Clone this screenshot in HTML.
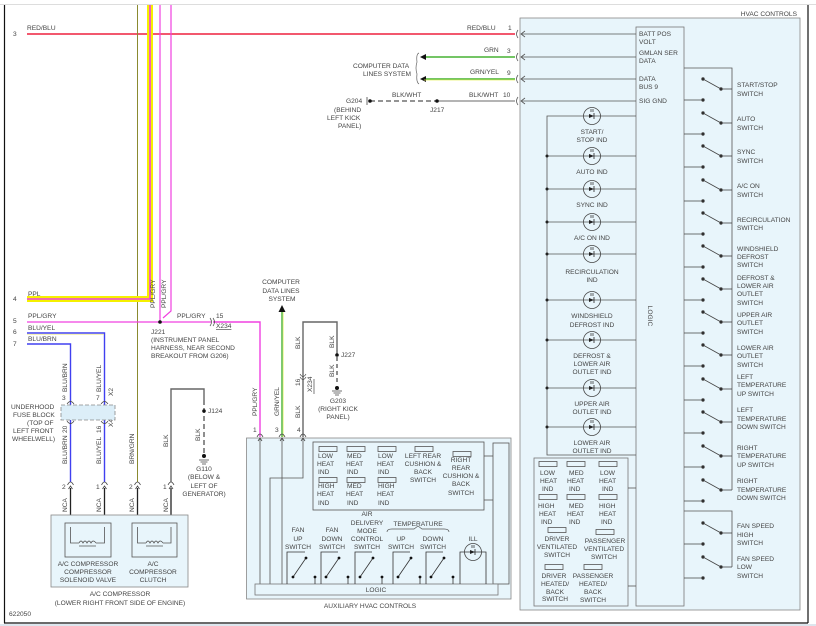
<!DOCTYPE html>
<html><head><meta charset="utf-8"><style>
html,body{margin:0;padding:0;background:#fff}
svg{display:block}
text{font-family:"Liberation Sans",sans-serif;font-size:6.6px;fill:#444}
</style></head><body>
<svg width="816" height="626" viewBox="0 0 816 626" xmlns="http://www.w3.org/2000/svg">
<defs>
<g id="led"><circle r="8.5" fill="none" stroke="#444" stroke-width="0.8"/><path d="M-3,-2 L2,0 L-3,2 Z" fill="#222"/><line x1="2" y1="-3" x2="2" y2="3" stroke="#222" stroke-width="0.8"/><line x1="-1" y1="-7" x2="-1" y2="-4" stroke="#222" stroke-width="0.7"/><line x1="1" y1="-7" x2="1" y2="-4" stroke="#222" stroke-width="0.7"/></g>
<g id="conUp"><path d="M-3,3 Q0,-3 3,3" fill="none" stroke="#444" stroke-width="0.8"/><path d="M-2,7 L0,4 L2,7" fill="none" stroke="#444" stroke-width="0.8"/></g>
<g id="ind"><rect x="-9" y="-2.5" width="18" height="5" fill="none" stroke="#555" stroke-width="0.8"/></g>
<g id="sw" stroke="#444" stroke-width="0.8" fill="#222">
<line x1="703" y1="0" x2="721" y2="10"/><line x1="721" y1="10" x2="732" y2="10"/><line x1="684" y1="21" x2="703" y2="21"/>
<circle cx="703" cy="0" r="1.3"/><circle cx="721" cy="10" r="1.3"/><circle cx="703" cy="21" r="1.3"/></g>
</defs>
<!-- frame -->
<line x1="0" y1="4.5" x2="816" y2="4.5" stroke="#ddd"/>
<line x1="4.5" y1="5" x2="4.5" y2="623" stroke="#111" stroke-width="1.2"/>
<line x1="4" y1="623" x2="808" y2="623" stroke="#111" stroke-width="1.2"/>
<line x1="808" y1="5" x2="808" y2="623" stroke="#111" stroke-width="1.2"/>
<rect x="0" y="624" width="816" height="2" fill="#dde6ee"/>

<!-- HVAC controls box -->
<rect x="520" y="18" width="280" height="592" fill="#e8f5fb" stroke="#888" stroke-width="0.8"/>
<text x="797" y="16" text-anchor="end">HVAC CONTROLS</text>
<rect x="636" y="27" width="48" height="579" fill="#e8f5fb" stroke="#777" stroke-width="0.8"/>
<text x="0" y="0" transform="translate(648,316) rotate(90)" text-anchor="middle">LOGIC</text>
<g stroke="#555" stroke-width="0.8">
<line x1="521" y1="34" x2="636" y2="34"/><line x1="521" y1="57" x2="636" y2="57"/><line x1="521" y1="79" x2="636" y2="79"/><line x1="521" y1="101" x2="636" y2="101"/>
</g>
<g fill="none" stroke="#555" stroke-width="0.8">
<path d="M525,31 L521,34 L525,37"/><path d="M525,54 L521,57 L525,60"/><path d="M525,76 L521,79 L525,82"/><path d="M525,98 L521,101 L525,104"/>
<path d="M518,30 Q515,34 518,38"/><path d="M518,53 Q515,57 518,61"/><path d="M518,75 Q515,79 518,83"/><path d="M518,97 Q515,101 518,105"/>
</g>
<text x="639" y="36">BATT POS</text><text x="639" y="44">VOLT</text>
<text x="639" y="55">GMLAN SER</text><text x="639" y="63">DATA</text>
<text x="639" y="81">DATA</text><text x="639" y="89">BUS 9</text>
<text x="639" y="103">SIG GND</text>

<!-- LED column -->
<g stroke="#555" stroke-width="0.8" fill="none">
<path d="M636,116 L547,116 L547,455 L636,455"/>
<line x1="547" y1="156" x2="636" y2="156"/><line x1="547" y1="189" x2="636" y2="189"/><line x1="547" y1="222" x2="636" y2="222"/><line x1="547" y1="254" x2="636" y2="254"/><line x1="547" y1="300" x2="636" y2="300"/><line x1="547" y1="340" x2="636" y2="340"/><line x1="547" y1="388" x2="636" y2="388"/><line x1="547" y1="427" x2="636" y2="427"/>
</g>
<g fill="#222"><circle cx="547" cy="156" r="1.5"/><circle cx="547" cy="189" r="1.5"/><circle cx="547" cy="222" r="1.5"/><circle cx="547" cy="254" r="1.5"/><circle cx="547" cy="300" r="1.5"/><circle cx="547" cy="340" r="1.5"/><circle cx="547" cy="388" r="1.5"/><circle cx="547" cy="427" r="1.5"/></g>
<g fill="#e8f5fb">
<use href="#led" x="592" y="116"/><use href="#led" x="592" y="156"/><use href="#led" x="592" y="189"/><use href="#led" x="592" y="222"/><use href="#led" x="592" y="254"/><use href="#led" x="592" y="300"/><use href="#led" x="592" y="340"/><use href="#led" x="592" y="388"/><use href="#led" x="592" y="427"/>
</g>
<g text-anchor="middle">
<text x="592" y="134">START/</text><text x="592" y="142">STOP IND</text>
<text x="592" y="174">AUTO IND</text>
<text x="592" y="207">SYNC IND</text>
<text x="592" y="240">A/C ON IND</text>
<text x="592" y="274">RECIRCULATION</text><text x="592" y="282">IND</text>
<text x="592" y="318">WINDSHIELD</text><text x="592" y="327">DEFROST IND</text>
<text x="592" y="358">DEFROST &amp;</text><text x="592" y="366">LOWER AIR</text><text x="592" y="374">OUTLET IND</text>
<text x="592" y="406">UPPER AIR</text><text x="592" y="414">OUTLET IND</text>
<text x="592" y="445">LOWER AIR</text><text x="592" y="453">OUTLET IND</text>
</g>

<!-- bottom-left indicator box in HVAC -->
<rect x="534" y="458" width="94" height="148" fill="#e8f5fb" stroke="#777" stroke-width="0.8"/>
<line x1="628" y1="488" x2="636" y2="488" stroke="#555" stroke-width="0.8"/>
<line x1="628" y1="586" x2="636" y2="586" stroke="#555" stroke-width="0.8"/>
<g fill="#e8f5fb"><use href="#ind" x="548" y="464"/><use href="#ind" x="576" y="464"/><use href="#ind" x="608" y="464"/>
<use href="#ind" x="548" y="497"/><use href="#ind" x="576" y="497"/><use href="#ind" x="608" y="497"/>
<use href="#ind" x="557" y="530"/><use href="#ind" x="605" y="532"/><use href="#ind" x="554" y="567"/><use href="#ind" x="593" y="567"/></g>
<text x="540" y="475">LOW</text><text x="540" y="483">HEAT</text><text x="542" y="491">IND</text>
<text x="569" y="475">MED</text><text x="567" y="483">HEAT</text><text x="569" y="491">IND</text>
<text x="600" y="475">LOW</text><text x="599" y="483">HEAT</text><text x="602" y="491">IND</text>
<text x="538" y="508">HIGH</text><text x="539" y="516">HEAT</text><text x="541" y="524">IND</text>
<text x="569" y="508">MED</text><text x="567" y="516">HEAT</text><text x="569" y="524">IND</text>
<text x="599" y="508">HIGH</text><text x="599" y="516">HEAT</text><text x="601" y="524">IND</text>
<g text-anchor="middle"><text x="557" y="541">DRIVER</text><text x="557" y="549">VENTILATED</text><text x="557" y="557">SWITCH</text>
<text x="605" y="543">PASSENGER</text><text x="604" y="551">VENTILATED</text><text x="604" y="559">SWITCH</text>
<text x="554" y="578">DRIVER</text><text x="555" y="586">HEATED/</text><text x="555" y="594">BACK</text><text x="555" y="601">SWITCH</text>
<text x="593" y="578">PASSENGER</text><text x="593" y="586">HEATED/</text><text x="593" y="594">BACK</text><text x="593" y="602">SWITCH</text></g>

<!-- right switches -->
<g stroke="#555" stroke-width="0.8" fill="none">
<path d="M684,68 L732,68 L732,490"/>
<path d="M684,511 L732,511 L732,567"/>
</g>
<use href="#sw" y="79"/><use href="#sw" y="113"/><use href="#sw" y="146"/><use href="#sw" y="180"/><use href="#sw" y="213"/><use href="#sw" y="246"/><use href="#sw" y="279"/><use href="#sw" y="312"/><use href="#sw" y="345"/><use href="#sw" y="379"/><use href="#sw" y="412"/><use href="#sw" y="446"/><use href="#sw" y="480"/>
<use href="#sw" y="523"/><use href="#sw" y="557"/>
<g>
<text x="737" y="87">START/STOP</text><text x="737" y="96">SWITCH</text>
<text x="737" y="121">AUTO</text><text x="737" y="130">SWITCH</text>
<text x="737" y="154">SYNC</text><text x="737" y="163">SWITCH</text>
<text x="737" y="188">A/C ON</text><text x="737" y="197">SWITCH</text>
<text x="737" y="222">RECIRCULATION</text><text x="737" y="230">SWITCH</text>
<text x="737" y="251">WINDSHIELD</text><text x="737" y="259">DEFROST</text><text x="737" y="267">SWITCH</text>
<text x="737" y="280">DEFROST &amp;</text><text x="737" y="288">LOWER AIR</text><text x="737" y="296">OUTLET</text><text x="737" y="305">SWITCH</text>
<text x="737" y="317">UPPER AIR</text><text x="737" y="325">OUTLET</text><text x="737" y="334">SWITCH</text>
<text x="737" y="350">LOWER AIR</text><text x="737" y="358">OUTLET</text><text x="737" y="367">SWITCH</text>
<text x="737" y="379">LEFT</text><text x="737" y="387">TEMPERATURE</text><text x="737" y="396">UP SWITCH</text>
<text x="737" y="412">LEFT</text><text x="737" y="421">TEMPERATURE</text><text x="737" y="429">DOWN SWITCH</text>
<text x="737" y="450">RIGHT</text><text x="737" y="458">TEMPERATURE</text><text x="737" y="467">UP SWITCH</text>
<text x="737" y="483">RIGHT</text><text x="737" y="492">TEMPERATURE</text><text x="737" y="500">DOWN SWITCH</text>
<text x="737" y="528">FAN SPEED</text><text x="737" y="537">HIGH</text><text x="737" y="545">SWITCH</text>
<text x="737" y="561">FAN SPEED</text><text x="737" y="569">LOW</text><text x="737" y="578">SWITCH</text>
</g>

<!-- top wires -->
<line x1="27" y1="34" x2="515" y2="34" stroke="#f0405a" stroke-width="1.8"/>
<text x="27" y="30">RED/BLU</text><text x="13" y="36">3</text>
<text x="467" y="30">RED/BLU</text><text x="508" y="30">1</text>
<line x1="424" y1="57" x2="515" y2="57" stroke="#46b232" stroke-width="1.6"/>
<line x1="424" y1="79" x2="515" y2="79" stroke="#46b232" stroke-width="1.6"/>
<path d="M420,57 L426,54 L426,60 Z M420,79 L426,76 L426,82 Z" fill="#111"/>
<line x1="424" y1="80" x2="515" y2="80" stroke="#e8f060" stroke-width="0.8"/>
<text x="484" y="52">GRN</text><text x="507" y="53">3</text>
<text x="470" y="74">GRN/YEL</text><text x="507" y="75">9</text>
<path d="M419,53 Q416,54 417,62 Q415,68 417,74 Q416,82 419,84" fill="none" stroke="#666" stroke-width="0.7"/>
<text x="353" y="68">COMPUTER DATA</text><text x="363" y="76">LINES SYSTEM</text>
<line x1="370" y1="101" x2="437" y2="101" stroke="#555" stroke-width="1.2" stroke-dasharray="5,3"/>
<line x1="437" y1="101" x2="515" y2="101" stroke="#888" stroke-width="1.2"/>
<circle cx="370" cy="101" r="1.8" fill="#111"/><circle cx="437" cy="101" r="1.8" fill="#111"/>
<line x1="367" y1="97" x2="367" y2="105" stroke="#444" stroke-width="0.8"/>
<text x="392" y="97">BLK/WHT</text><text x="469" y="97">BLK/WHT</text><text x="503" y="97">10</text>
<text x="346" y="103">G204</text><text x="430" y="112">J217</text>
<text x="334" y="112">(BEHIND</text><text x="327" y="120">LEFT KICK</text><text x="338" y="128">PANEL)</text>

<!-- left vertical harness -->
<line x1="137.5" y1="5" x2="137.5" y2="482" stroke="#8a8a30" stroke-width="1"/>
<path d="M27,299 L150,299 L150,5" fill="none" stroke="#f5f000" stroke-width="6"/>
<path d="M27,299 L150,299 L150,5" fill="none" stroke="#f040e0" stroke-width="1.6"/>
<line x1="160" y1="5" x2="160" y2="322" stroke="#f040e0" stroke-width="1.2"/>
<path d="M171,5 L171,311 L163,318" fill="none" stroke="#f040e0" stroke-width="1.2"/>
<text x="0" y="0" transform="translate(155,308) rotate(-90)">PPL/GRY</text>
<text x="0" y="0" transform="translate(166,308) rotate(-90)">PPL/GRY</text>
<text x="28" y="296">PPL</text><text x="13" y="301">4</text>

<line x1="27" y1="322" x2="211" y2="322" stroke="#f040e0" stroke-width="1.2"/>
<path d="M213,322 L260,322 L260,437" fill="none" stroke="#f040e0" stroke-width="1.4"/>
<circle cx="160" cy="322" r="1.8" fill="#111"/>
<path d="M210,318 Q213,322 210,326 M213,318 Q216,322 213,326" fill="none" stroke="#444" stroke-width="0.7"/>
<text x="28" y="318">PPL/GRY</text><text x="13" y="323">5</text>
<text x="177" y="318">PPL/GRY</text><text x="216" y="318">15</text>
<text x="216" y="328" text-decoration="underline">X234</text>
<text x="151" y="334">J221</text>
<text x="151" y="342">(INSTRUMENT PANEL</text><text x="151" y="350">HARNESS, NEAR SECOND</text><text x="151" y="358">BREAKOUT FROM G206)</text>

<path d="M27,333 L104.5,333 L104.5,482" fill="none" stroke="#4040f0" stroke-width="1.4"/>
<path d="M27,344 L70.5,344 L70.5,482" fill="none" stroke="#4040f0" stroke-width="1.4"/>
<line x1="27" y1="334.2" x2="104" y2="334.2" stroke="#e8e060" stroke-width="0.5"/>
<text x="28" y="330">BLU/YEL</text><text x="13" y="334">6</text>
<text x="28" y="341">BLU/BRN</text><text x="13" y="346">7</text>
<text x="0" y="0" transform="translate(67,392) rotate(-90)">BLU/BRN</text>
<text x="0" y="0" transform="translate(101,392) rotate(-90)">BLU/YEL</text>
<text x="0" y="0" transform="translate(67,464) rotate(-90)">BLU/BRN</text>
<text x="0" y="0" transform="translate(101,464) rotate(-90)">BLU/YEL</text>
<text x="0" y="0" transform="translate(134,464) rotate(-90)">BRN/GRN</text>
<text x="0" y="0" transform="translate(168,447) rotate(-90)">BLK</text>
<text x="62" y="400">3</text><text x="96" y="400">7</text>
<text x="0" y="0" transform="translate(113,396) rotate(-90)">X2</text>
<text x="0" y="0" transform="translate(67,433) rotate(-90)">20</text>
<text x="0" y="0" transform="translate(101,433) rotate(-90)">16</text>
<text x="0" y="0" transform="translate(113,427) rotate(-90)">X4</text>
<rect x="61" y="405" width="54" height="15" fill="#dceef8" stroke="#888" stroke-width="0.8" stroke-dasharray="4,2"/>
<text x="11" y="409">UNDERHOOD</text><text x="13" y="417">FUSE BLOCK</text><text x="27" y="425">(TOP OF</text><text x="13" y="433">LEFT FRONT</text><text x="12" y="441">WHEELWELL)</text>

<path d="M171,482 L171,389 L204,389 L204,400" fill="none" stroke="#666" stroke-width="1.4"/>
<line x1="204" y1="400" x2="204" y2="455" stroke="#444" stroke-width="1.2" stroke-dasharray="5,3"/>
<circle cx="204" cy="411" r="1.8" fill="#111"/><circle cx="204" cy="456" r="2" fill="#111"/>
<path d="M199,460 L209,460 M200.5,462 L207.5,462 M202,464 L206,464" stroke="#444" stroke-width="0.7"/>
<text x="208" y="413">J124</text>
<text x="0" y="0" transform="translate(200,441) rotate(-90)">BLK</text>
<text x="204" y="471" text-anchor="middle">G110</text><text x="204" y="479" text-anchor="middle">(BELOW &amp;</text><text x="204" y="488" text-anchor="middle">LEFT OF</text><text x="204" y="496" text-anchor="middle">GENERATOR)</text>

<g fill="none" stroke="#444" stroke-width="0.7">
<path d="M67,404 Q70.5,399 74,404 M67,421 Q70.5,426 74,421 M101,404 Q104.5,399 108,404 M101,421 Q104.5,426 108,421"/>
</g>
<use href="#conUp" x="70.5" y="482"/><use href="#conUp" x="104.5" y="482"/><use href="#conUp" x="137.5" y="482"/><use href="#conUp" x="171" y="482"/>
<text x="62" y="489">2</text><text x="96" y="489">1</text><text x="129" y="489">2</text><text x="163" y="489">1</text>
<g stroke="#222" stroke-width="1.3"><line x1="70.5" y1="488" x2="70.5" y2="527"/><line x1="104.5" y1="488" x2="104.5" y2="527"/><line x1="137.5" y1="488" x2="137.5" y2="527"/><line x1="171" y1="488" x2="171" y2="527"/></g>
<text x="0" y="0" transform="translate(67,512) rotate(-90)">NCA</text>
<text x="0" y="0" transform="translate(101,512) rotate(-90)">NCA</text>
<text x="0" y="0" transform="translate(134,512) rotate(-90)">NCA</text>
<text x="0" y="0" transform="translate(168,512) rotate(-90)">NCA</text>

<!-- A/C compressor -->
<rect x="51" y="515" width="137" height="72" fill="#e8f5fb" stroke="#888" stroke-width="0.8"/>
<rect x="65" y="523" width="46" height="34" fill="none" stroke="#555" stroke-width="0.8"/>
<rect x="132" y="523" width="45" height="34" fill="none" stroke="#555" stroke-width="0.8"/>
<path d="M70.5,527 L70.5,543 L79,543 M96,543 L104.5,543 L104.5,527 M137.5,527 L137.5,543 L146,543 M163,543 L171,543 L171,527" fill="none" stroke="#555" stroke-width="0.8"/>
<path d="M79,543 q2,-4 4,0 q2,-4 4,0 q2,-4 4,0 q2,-4 5,0 M146,543 q2,-4 4,0 q2,-4 4,0 q2,-4 4,0 q2,-4 5,0" fill="none" stroke="#555" stroke-width="0.8"/>
<line x1="79" y1="546" x2="96" y2="546" stroke="#555" stroke-width="0.8"/><line x1="146" y1="546" x2="163" y2="546" stroke="#555" stroke-width="0.8"/>
<g text-anchor="middle"><text x="88" y="566">A/C COMPRESSOR</text><text x="88" y="574">COMPRESSOR</text><text x="88" y="582">SOLENOID VALVE</text>
<text x="153" y="566">A/C</text><text x="153" y="574">COMPRESSOR</text><text x="153" y="582">CLUTCH</text>
<text x="120" y="596">A/C COMPRESSOR</text><text x="120" y="605">(LOWER RIGHT FRONT SIDE OF ENGINE)</text></g>
<text x="9" y="616">622050</text>

<!-- computer data lines / BLK middle -->
<text x="281" y="284" text-anchor="middle">COMPUTER</text><text x="281" y="293" text-anchor="middle">DATA LINES</text><text x="282" y="301" text-anchor="middle">SYSTEM</text>
<line x1="282" y1="312" x2="282" y2="437" stroke="#46b232" stroke-width="1.4"/>
<line x1="283.2" y1="312" x2="283.2" y2="437" stroke="#e8f060" stroke-width="0.6"/>
<path d="M282,305 L278.5,312 L285.5,312 Z" fill="#111"/>
<path d="M303,437 L303,322 L337,322 L337,350" fill="none" stroke="#666" stroke-width="1.4"/>
<line x1="337" y1="350" x2="337" y2="385" stroke="#444" stroke-width="1.2" stroke-dasharray="4,3"/>
<circle cx="337" cy="355" r="1.8" fill="#111"/><circle cx="337" cy="388" r="2" fill="#111"/>
<path d="M332,391 L342,391 M333.5,393 L340.5,393 M335,395 L339,395" stroke="#444" stroke-width="0.7"/>
<text x="341" y="357">J227</text>
<text x="0" y="0" transform="translate(300,349) rotate(-90)">BLK</text>
<text x="0" y="0" transform="translate(334,348) rotate(-90)">BLK</text>
<text x="0" y="0" transform="translate(334,377) rotate(-90)">BLK</text>
<text x="0" y="0" transform="translate(300,418) rotate(-90)">BLK</text>
<text x="0" y="0" transform="translate(300,386) rotate(-90)">16</text>
<text x="0" y="0" transform="translate(312,392) rotate(-90)">X234</text>
<line x1="314" y1="379" x2="314" y2="394" stroke="#444" stroke-width="0.7"/>
<path d="M300,374 Q303,379 306,374 M300,377 Q303,382 306,377" fill="none" stroke="#444" stroke-width="0.7"/>
<text x="338" y="403" text-anchor="middle">G203</text><text x="338" y="411" text-anchor="middle">(RIGHT KICK</text><text x="338" y="419" text-anchor="middle">PANEL)</text>
<text x="0" y="0" transform="translate(257,416) rotate(-90)">PPL/GRY</text>
<text x="0" y="0" transform="translate(279,416) rotate(-90)">GRN/YEL</text>
<text x="253" y="432">1</text><text x="275" y="432">3</text><text x="297" y="432">4</text>

<!-- Aux HVAC controls -->
<rect x="246.5" y="438" width="264.5" height="161" fill="#e8f5fb" stroke="#888" stroke-width="0.8"/>
<use href="#conUp" x="260" y="434"/><use href="#conUp" x="282" y="434"/><use href="#conUp" x="303" y="434"/>
<g stroke="#555" stroke-width="0.8" fill="none">
<line x1="260" y1="438" x2="260" y2="584"/><line x1="282" y1="438" x2="282" y2="584"/>
<path d="M303,438 L303,478 L270,478 L270,584"/>
<rect x="313" y="442" width="171" height="68" fill="#e8f5fb"/>
<rect x="493" y="443" width="16" height="141"/>
<line x1="484" y1="456" x2="493" y2="456"/><line x1="484" y1="500" x2="493" y2="500"/>
</g>
<rect x="255" y="584" width="243" height="11" fill="#e8f5fb" stroke="#777" stroke-width="0.8"/>
<text x="376" y="592" text-anchor="middle">LOGIC</text>
<text x="370" y="608" text-anchor="middle">AUXILIARY HVAC CONTROLS</text>
<g fill="#e8f5fb"><use href="#ind" x="328" y="449"/><use href="#ind" x="356" y="449"/><use href="#ind" x="387" y="449"/><use href="#ind" x="424" y="449"/><use href="#ind" x="462" y="454"/>
<use href="#ind" x="328" y="480"/><use href="#ind" x="356" y="480"/><use href="#ind" x="387" y="480"/></g>
<text x="318" y="458">LOW</text><text x="317" y="466">HEAT</text><text x="318" y="474">IND</text>
<text x="347" y="458">MED</text><text x="346" y="466">HEAT</text><text x="347" y="474">IND</text>
<text x="378" y="458">LOW</text><text x="377" y="466">HEAT</text><text x="378" y="474">IND</text>
<text x="318" y="488">HIGH</text><text x="317" y="496">HEAT</text><text x="318" y="505">IND</text>
<text x="347" y="488">MED</text><text x="346" y="496">HEAT</text><text x="347" y="505">IND</text>
<text x="378" y="488">HIGH</text><text x="377" y="496">HEAT</text><text x="378" y="505">IND</text>
<g text-anchor="middle">
<text x="423" y="458">LEFT REAR</text><text x="423" y="466">CUSHION &amp;</text><text x="423" y="474">BACK</text><text x="423" y="482">SWITCH</text>
<text x="461" y="462">RIGHT</text><text x="461" y="470">REAR</text><text x="461" y="478">CUSHION &amp;</text><text x="461" y="486">BACK</text><text x="461" y="495">SWITCH</text>
<text x="367" y="516">AIR</text><text x="367" y="525">DELIVERY</text><text x="367" y="533">MODE</text><text x="367" y="541">CONTROL</text><text x="367" y="549">SWITCH</text>
<text x="298" y="532">FAN</text><text x="298" y="541">UP</text><text x="298" y="549">SWITCH</text>
<text x="332" y="532">FAN</text><text x="332" y="541">DOWN</text><text x="332" y="549">SWITCH</text>
<text x="418" y="526">TEMPERATURE</text>
<text x="401" y="541">UP</text><text x="401" y="549">SWITCH</text>
<text x="433" y="541">DOWN</text><text x="433" y="549">SWITCH</text>
<text x="473" y="541">ILL</text>
</g>
<path d="M387,532 Q387,529 392,529 L414,529 L418,526 L422,529 L444,529 Q449,529 449,532" fill="none" stroke="#555" stroke-width="0.7"/>
<g stroke="#333" stroke-width="0.8" fill="none">
<path d="M287,584 L287,552 L305,552"/><line x1="306" y1="558" x2="293" y2="577"/><line x1="315" y1="577" x2="315" y2="584"/>
<path d="M321,584 L321,552 L338,552"/><line x1="339" y1="558" x2="326" y2="577"/><line x1="348" y1="577" x2="348" y2="584"/>
<path d="M355,584 L355,552 L372,552"/><line x1="373" y1="558" x2="360" y2="577"/><line x1="382" y1="577" x2="382" y2="584"/>
<path d="M393,584 L393,552 L410,552"/><line x1="411" y1="558" x2="398" y2="577"/><line x1="420" y1="577" x2="420" y2="584"/>
<path d="M426,584 L426,552 L443,552"/><line x1="444" y1="558" x2="431" y2="577"/><line x1="453" y1="577" x2="453" y2="584"/>
<path d="M460,584 L460,552 L486,552 L486,584"/>
</g>
<g fill="#111"><circle cx="306" cy="558" r="1.4"/><circle cx="293" cy="577" r="1.4"/><circle cx="315" cy="577" r="1.4"/>
<circle cx="339" cy="558" r="1.4"/><circle cx="326" cy="577" r="1.4"/><circle cx="348" cy="577" r="1.4"/>
<circle cx="373" cy="558" r="1.4"/><circle cx="360" cy="577" r="1.4"/><circle cx="382" cy="577" r="1.4"/>
<circle cx="411" cy="558" r="1.4"/><circle cx="398" cy="577" r="1.4"/><circle cx="420" cy="577" r="1.4"/>
<circle cx="444" cy="558" r="1.4"/><circle cx="431" cy="577" r="1.4"/><circle cx="453" cy="577" r="1.4"/></g>
<g fill="#e8f5fb"><use href="#led" x="473" y="552"/></g>
</svg>
</body></html>
